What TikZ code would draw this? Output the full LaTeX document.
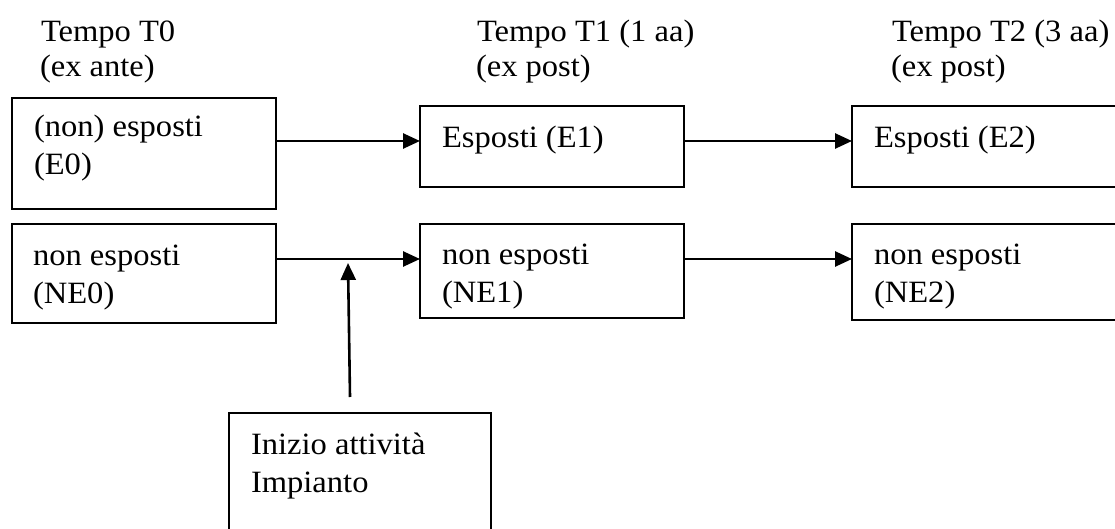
\documentclass[tikz,border=0pt]{standalone}
\usepackage{fontspec}
\setmainfont{Liberation Serif}[FakeStretch=1.05]
\usetikzlibrary{arrows.meta,calc}
\begin{document}
\begin{tikzpicture}[x=1pt,y=-1pt,
  box/.style={draw=black,line width=1.8pt,fill=none},
  txt/.style={anchor=base west,inner sep=0pt,outer sep=0pt,font=\fontsize{31}{36}\selectfont},
  arr/.style={line width=2.6pt,-{Triangle[length=17pt,width=15pt]}}]
\useasboundingbox (0,0) rectangle (1115,529);
\clip (0,0) rectangle (1115,529);
% boxes
\draw[box] (12,98) rectangle (276,209);
\node[inner sep=0pt,minimum width=264pt,minimum height=111pt,anchor=north west] (e0) at (12,98) {};
\draw[box] (420,106) rectangle (684,187);
\node[inner sep=0pt,minimum width=264pt,minimum height=81pt,anchor=north west] (e1) at (420,106) {};
\draw[box] (852,106) rectangle (1125,187);
\node[inner sep=0pt,minimum width=273pt,minimum height=81pt,anchor=north west] (e2) at (852,106) {};
\draw[box] (12,224) rectangle (276,323);
\node[inner sep=0pt,minimum width=264pt,minimum height=99pt,anchor=north west] (ne0) at (12,224) {};
\draw[box] (420,224) rectangle (684,318);
\node[inner sep=0pt,minimum width=264pt,minimum height=94pt,anchor=north west] (ne1) at (420,224) {};
\draw[box] (852,224) rectangle (1125,320);
\node[inner sep=0pt,minimum width=273pt,minimum height=96pt,anchor=north west] (ne2) at (852,224) {};
\draw[box] (229,413) rectangle (491,545);
\node[inner sep=0pt,minimum width=262pt,minimum height=132pt,anchor=north west] (imp) at (229,413) {};
% headers
\node[txt] (h0a) at (41,42) {Tempo T0};
\node[txt] (h0b) at (40,77) {(ex ante)};
\node[txt] (h1a) at (477,42) {Tempo T1 (1 aa)};
\node[txt] (h1b) at (476,77) {(ex post)};
\node[txt] (h2a) at (892,42) {Tempo T2 (3 aa)};
\node[txt] (h2b) at (891,77) {(ex post)};
% box texts
\node[txt] (t0a) at (34,137) {(non) esposti};
\node[txt] (t0b) at (34,175) {(E0)};
\node[txt] (t1) at (442,148) {Esposti (E1)};
\node[txt] (t2) at (874,148) {Esposti (E2)};
\node[txt] (n0a) at (33,265) {non esposti};
\node[txt] (n0b) at (33,303) {(NE0)};
\node[txt] (n1a) at (442,264) {non esposti};
\node[txt] (n1b) at (442,302) {(NE1)};
\node[txt] (n2a) at (874,264) {non esposti};
\node[txt] (n2b) at (874,302) {(NE2)};
\node[txt] (ia) at (251,454) {Inizio attività};
\node[txt] (ib) at (251,492) {Impianto};
% connectors
\coordinate (r1) at (0,141);
\coordinate (r2) at (0,259);
\draw[arr] (e0.east |- r1) -- (e1.west |- r1);
\draw[arr] (e1.east |- r1) -- (e2.west |- r1);
\draw[arr] (ne0.east |- r2) -- (ne1.west |- r2);
\draw[arr] (ne1.east |- r2) -- (ne2.west |- r2);
\coordinate (vs) at (350,397);
\coordinate (ve) at (348,263);
\draw[arr] (vs) -- (ve);
\end{tikzpicture}
\end{document}
